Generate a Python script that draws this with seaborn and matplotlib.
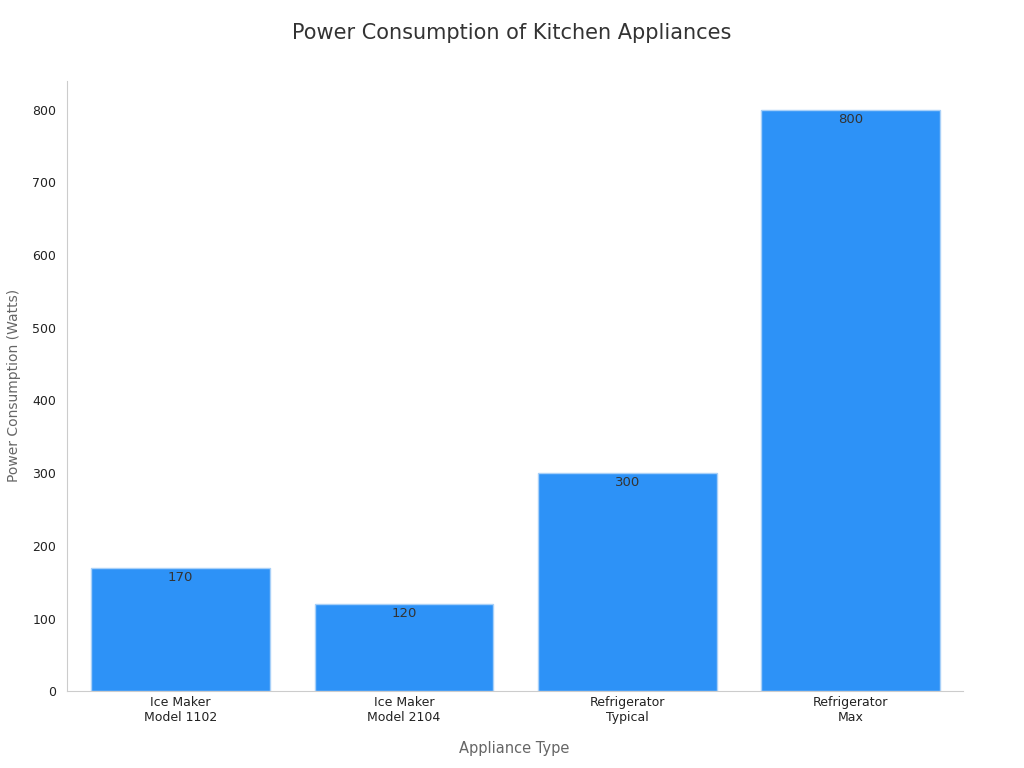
import matplotlib
matplotlib.use("Agg")
import matplotlib.pyplot as plt
import seaborn as sns
import pandas as pd

CATEGORIES = ["Ice Maker\nModel 1102", "Ice Maker\nModel 2104", "Refrigerator\nTypical", "Refrigerator\nMax"]
WATTS = [170, 120, 300, 800]

df = pd.DataFrame({"appliance": CATEGORIES, "watts": WATTS})

sns.set_style("white")
plt.rcParams["font.family"] = "DejaVu Sans"
fig, ax = plt.subplots(figsize=(10.24, 7.68), dpi=100)
sns.barplot(data=df, x="appliance", y="watts", color="#2d92f7", saturation=1,
            width=0.8, edgecolor="#a8d0f8", linewidth=1, ax=ax)
for i, v in enumerate(WATTS):
    ax.text(i, v - 4, str(v), ha="center", va="top", fontsize=9.5, color="#333333")

ax.set_ylim(0, 840)
ax.set_xlim(-0.51, 3.5)
ax.set_yticks(range(0, 801, 100))
ax.tick_params(axis="both", labelsize=9, colors="#222222", length=4)
ax.tick_params(axis="y", color="#888888")
ax.tick_params(axis="x", length=0)
for s in ["top", "right"]:
    ax.spines[s].set_visible(False)
for s in ["left", "bottom"]:
    ax.spines[s].set_color("#cccccc")
ax.set_xlabel("Appliance Type", fontsize=10.5, color="#666666", labelpad=12)
ax.set_ylabel("Power Consumption (Watts)", fontsize=10, color="#666666", labelpad=8)
fig.suptitle("Power Consumption of Kitchen Appliances", fontsize=15, color="#333333", y=0.97)
plt.subplots_adjust(left=0.065, right=0.94, top=0.895, bottom=0.1)
plt.savefig("out.png", dpi=100)
